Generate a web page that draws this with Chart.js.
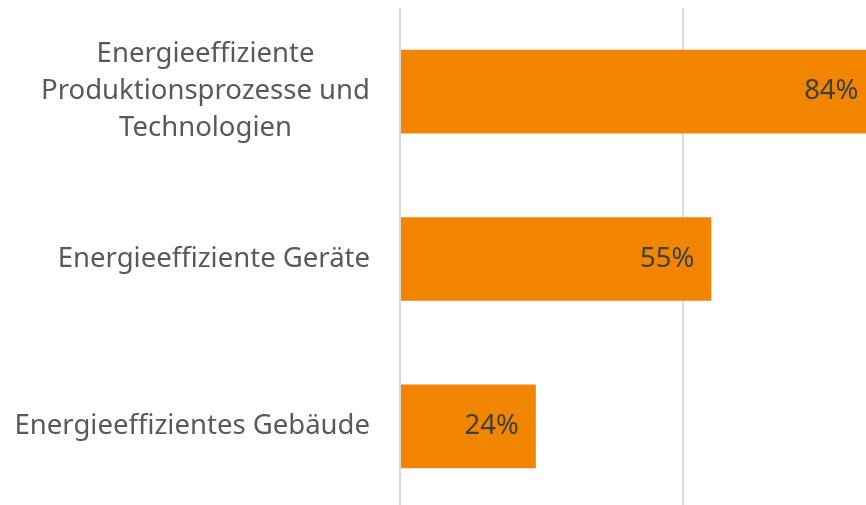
<!DOCTYPE html>
<html>
<head>
<meta charset="utf-8">
<script src="https://cdn.jsdelivr.net/npm/chart.js@4"></script>
<style>
  html, body { margin: 0; padding: 0; background: #fff; overflow: hidden; }
  #wrap { width: 970px; height: 510px; }
</style>
</head>
<body>
<div id="wrap"><canvas id="chart"></canvas></div>
<script>
const categories = [
    ['Energieeffiziente', 'Produktionsprozesse und', 'Technologien'],
    ['Energieeffiziente Geräte'],
    ['Energieeffizientes Gebäude'],
];
const values = [84, 55, 24];
const xTicks = [0, 50, 100];

const FONT = '"Noto Sans", sans-serif';
const FONT_SIZE = 27.5;

// category labels: block right-aligned, lines centred inside the block
const categoryLabels = {
    id: 'categoryLabels',
    afterDraw: (chart) => {
        const ctx = chart.ctx;
        const yScale = chart.scales.y;
        const right = yScale.right - 30;
        const lineH = 37;
        ctx.save();
        ctx.font = `${FONT_SIZE}px ${FONT}`;
        ctx.fillStyle = '#595959';
        ctx.textBaseline = 'middle';
        ctx.textAlign = 'center';
        categories.forEach((lines, i) => {
            const y = yScale.getPixelForTick(i);
            const w = Math.max(...lines.map(l => ctx.measureText(l).width));
            const cx = right - w / 2;
            const y0 = y - (lines.length - 1) * lineH / 2;
            lines.forEach((l, j) => ctx.fillText(l, cx, y0 + j * lineH));
        });
        ctx.restore();
    }
};

// value labels inside the bar end
const valueLabels = {
    id: 'valueLabels',
    afterDatasetsDraw: (chart) => {
        const ctx = chart.ctx;
        const meta = chart.getDatasetMeta(0);
        ctx.save();
        ctx.font = `${FONT_SIZE}px ${FONT}`;
        ctx.fillStyle = '#404040';
        ctx.textBaseline = 'middle';
        ctx.textAlign = 'right';
        meta.data.forEach((bar, i) => {
            ctx.fillText(values[i] + '%', bar.x - 17, bar.y);
        });
        ctx.restore();
    }
};

new Chart(document.getElementById('chart'), {
    type: 'bar',
    data: {
        labels: categories,
        datasets: [{
            data: values,
            backgroundColor: '#F28500',
            borderWidth: 0,
            categoryPercentage: 1,
            barPercentage: 0.5,
        }]
    },
    options: {
        indexAxis: 'y',
        responsive: true,
        maintainAspectRatio: false,
        animation: false,
        layout: { padding: { top: 8, right: 4, bottom: 0, left: 0 } },
        plugins: {
            legend: { display: false },
            tooltip: { enabled: false },
        },
        scales: {
            x: {
                min: xTicks[0],
                max: xTicks[xTicks.length - 1],
                afterBuildTicks: (scale) => { scale.ticks = xTicks.map(v => ({ value: v })); },
                ticks: { display: false },
                grid: { color: '#d9d9d9', lineWidth: 2, drawTicks: false },
                border: { display: false },
            },
            y: {
                ticks: { display: false },
                grid: { display: false },
                border: { display: false },
                afterFit: (scale) => { scale.width = 400; },
            }
        }
    },
    plugins: [categoryLabels, valueLabels],
});
</script>
</body>
</html>
